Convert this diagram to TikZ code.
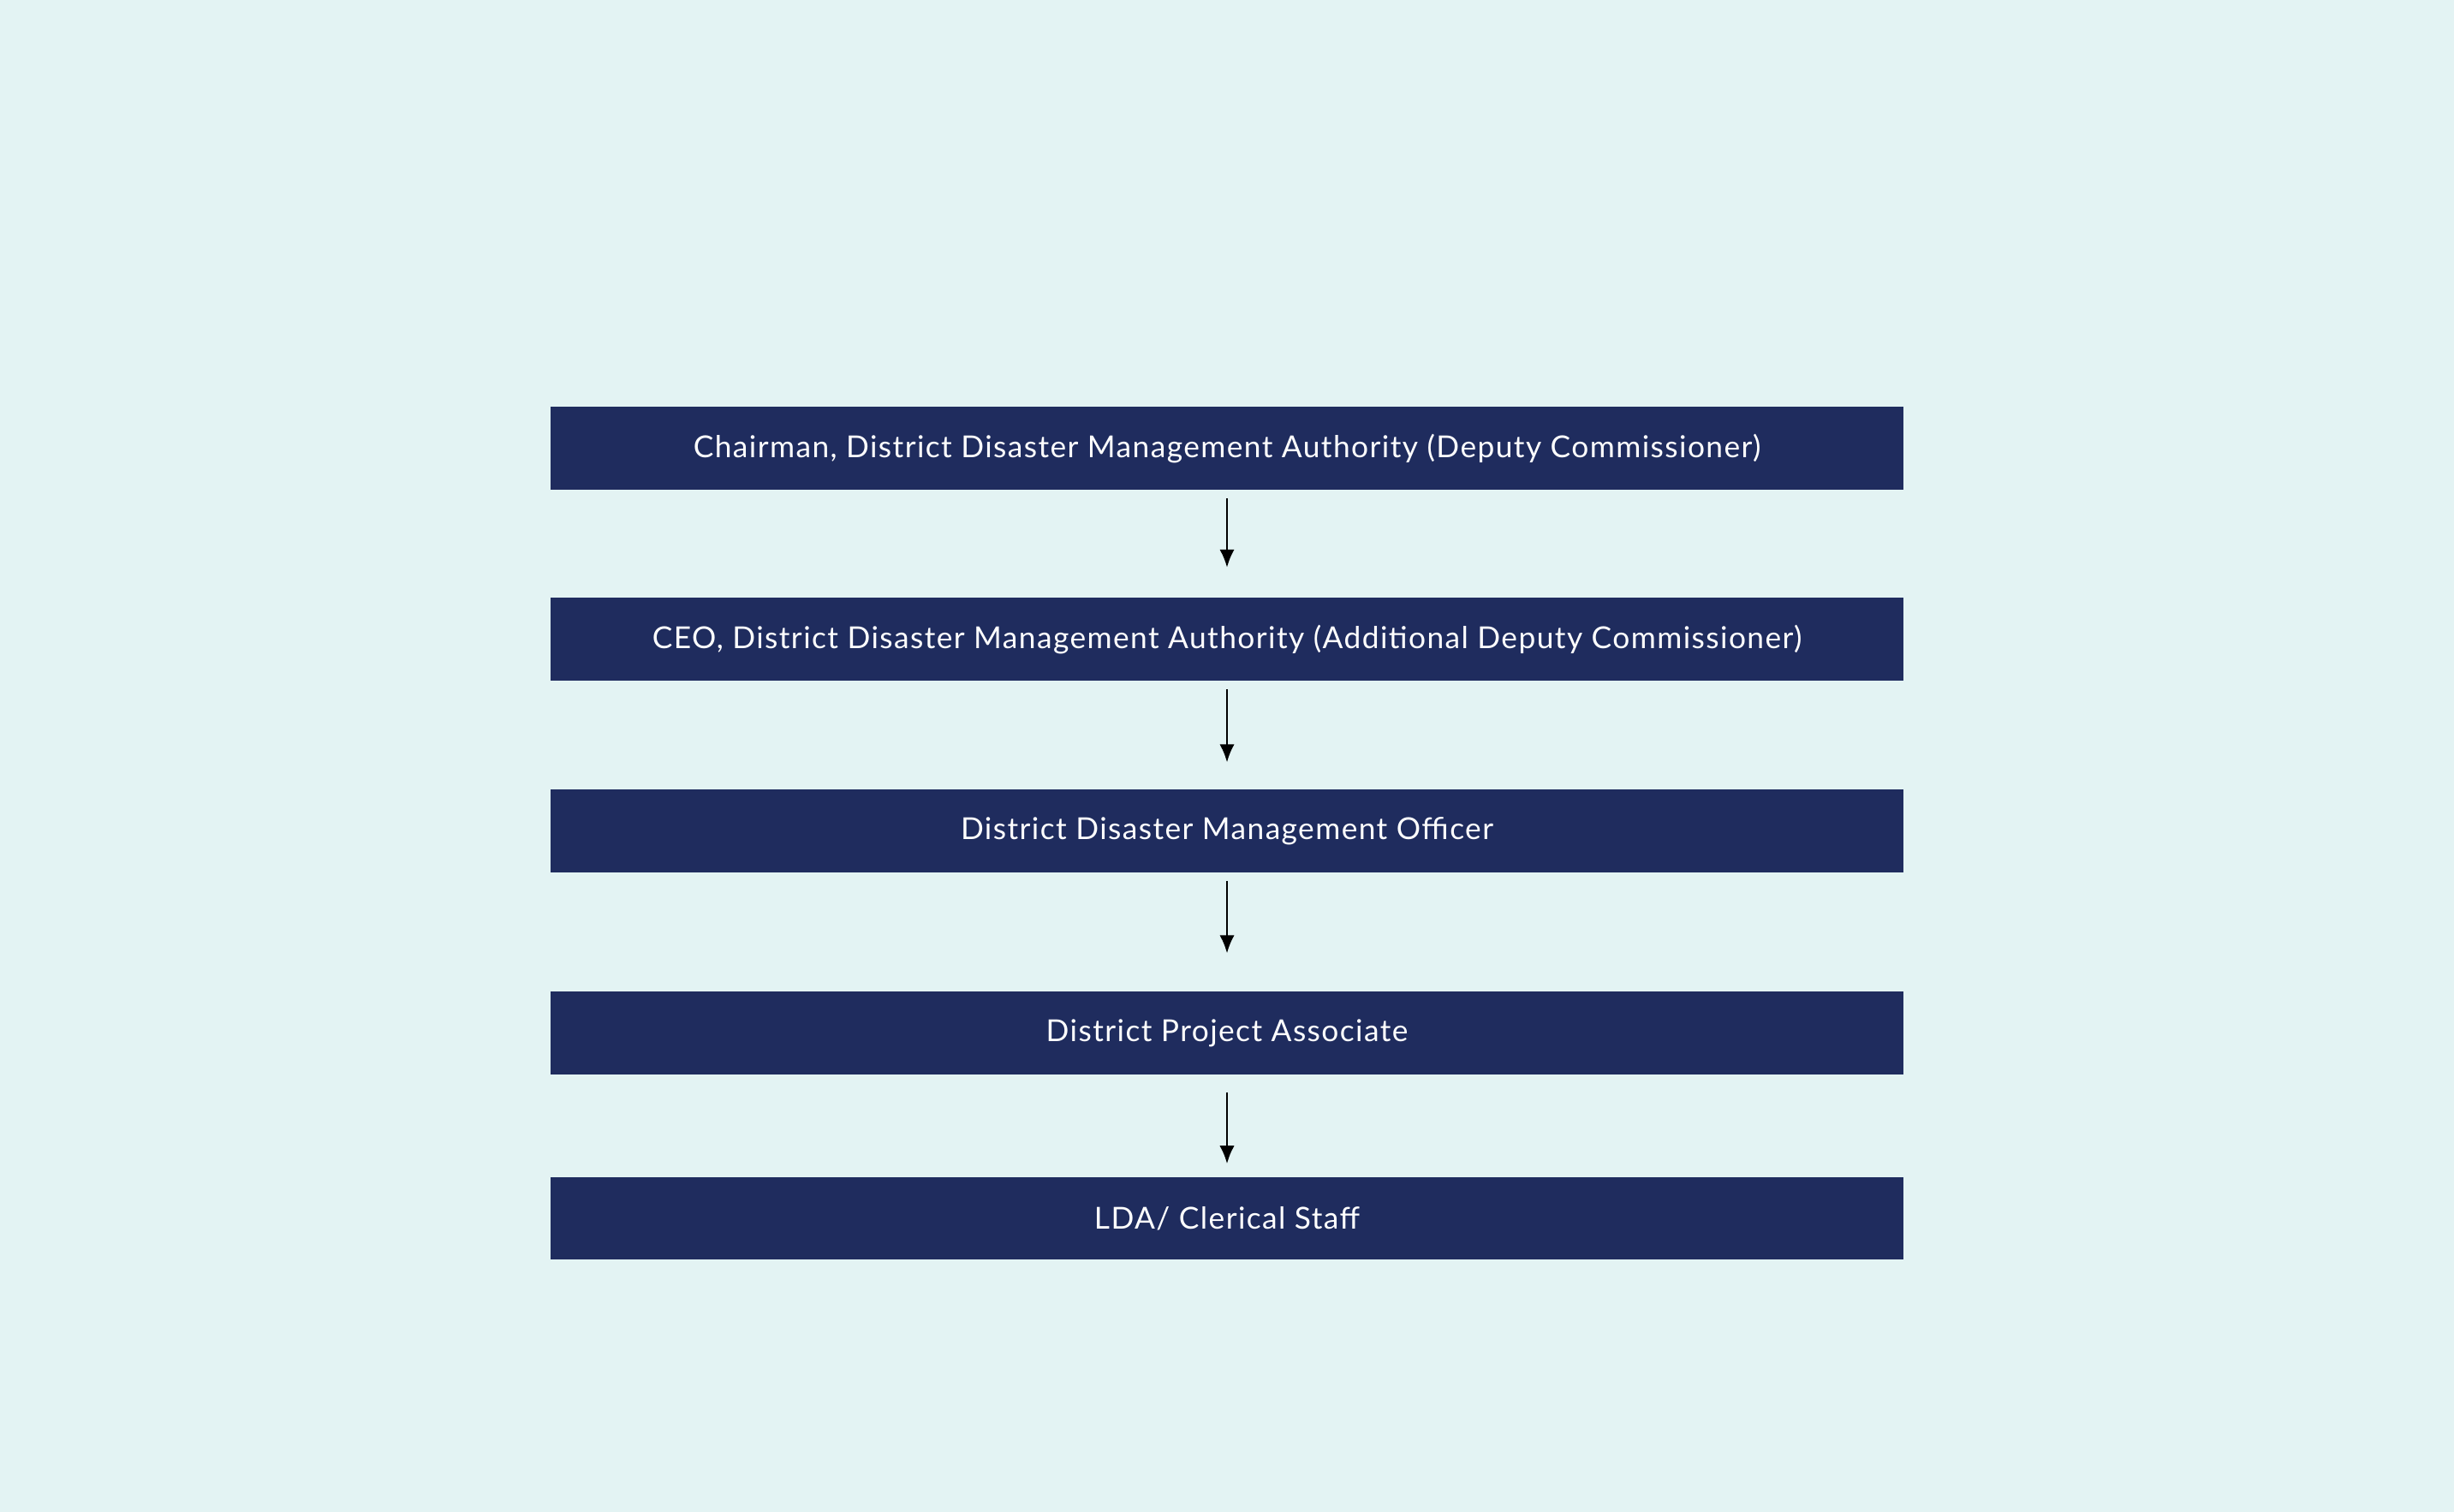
\documentclass[tikz,border=0pt]{standalone}
\usepackage{fontspec}
\setmainfont[LetterSpace=4]{Lato}
\usetikzlibrary{arrows.meta}
\definecolor{bgcol}{HTML}{E3F3F3}
\definecolor{boxcol}{HTML}{1F2C5E}
\tikzset{
  rank/.style={fill=boxcol, text=white, minimum width=17.28cm, minimum height=1.06cm,
    inner sep=0pt, font=\fontsize{11}{13}\selectfont},
  link/.style={thick, -{Latex[length=2.3mm,width=1.9mm]}, shorten <=0.1cm, shorten >=0.38cm}
}
\begin{document}
\begin{tikzpicture}

\fill[bgcol] (0,0) rectangle (31.36,-19.32);

\node[rank] (chair) at (15.68,-5.73) {Chairman, District Disaster Management Authority (Deputy Commissioner)};
\node[rank] (ceo) at (15.68,-8.17) {CEO, District Disaster Management Authority (Additional Deputy Commissioner)};
\node[rank] (ddmo) at (15.68,-10.62) {District Disaster Management Officer};
\node[rank] (dpa) at (15.68,-13.20) {District Project Associate};
\node[rank] (lda) at (15.68,-15.57) {LDA/ Clerical Staff};

\draw[link] (chair) -- (ceo);
\draw[link, shorten >=0.34cm] (ceo) -- (ddmo);
\draw[link, shorten >=0.48cm] (ddmo) -- (dpa);
\draw[link, shorten <=0.22cm, shorten >=0.16cm] (dpa) -- (lda);

\end{tikzpicture}
\end{document}
